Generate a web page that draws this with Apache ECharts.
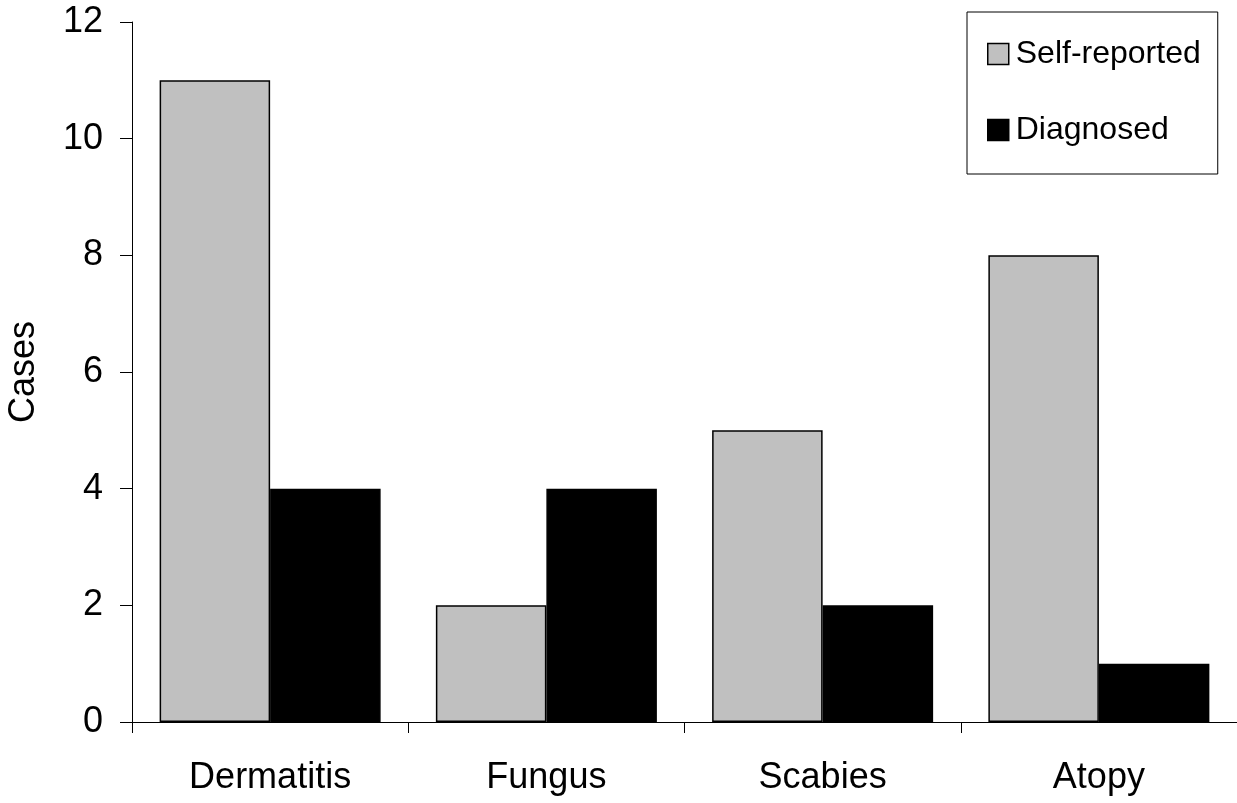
<!DOCTYPE html>
<html><head><meta charset="utf-8">
<script src="https://cdn.jsdelivr.net/npm/echarts@6/dist/echarts.min.js"></script>
<style>html,body{margin:0;padding:0;background:#fff}#c{width:1237px;height:803px}</style>
</head><body><div id="c"></div>
<script>
const categories = ['Dermatitis', 'Fungus', 'Scabies', 'Atopy'];
const selfReported = [11, 2, 5, 8];
const diagnosed = [4, 4, 2, 1];
const yTicks = [0, 2, 4, 6, 8, 10, 12];

const font = 'Liberation Sans, Arial, sans-serif';
const chart = echarts.init(document.getElementById('c'), null, {renderer: 'canvas'});
chart.setOption({
  animation: false,
  backgroundColor: '#fff',
  grid: {left: 132, right: 0, top: 22, bottom: 81, containLabel: false, outerBoundsMode: 'none'},
  legend: {
    orient: 'vertical', left: 967, top: 12,
    padding: [26, 17, 28, 20], itemGap: 44,
    itemWidth: 21, itemHeight: 21, icon: 'rect',
    borderColor: '#000', borderWidth: 1, backgroundColor: '#fff',
    textStyle: {fontFamily: font, fontSize: 32, color: '#000', padding: [0, 0, 0, 2]},
    itemStyle: {borderColor: '#000', borderWidth: 1.5},
    data: ['Self-reported', 'Diagnosed']
  },
  xAxis: {
    type: 'category', data: categories,
    axisLine: {lineStyle: {color: '#000', width: 1}},
    axisTick: {show: true, length: 11, lineStyle: {color: '#000'}},
    axisLabel: {fontFamily: font, fontSize: 36, color: '#000', margin: 38}
  },
  yAxis: {
    type: 'value', min: yTicks[0], max: yTicks[yTicks.length - 1], interval: 2,
    name: 'Cases', nameLocation: 'middle', nameGap: 90,
    nameTextStyle: {fontFamily: font, fontSize: 36, color: '#000'},
    axisLine: {show: true, lineStyle: {color: '#000', width: 1}},
    axisTick: {show: true, length: 12, lineStyle: {color: '#000'}},
    splitLine: {show: false},
    axisLabel: {fontFamily: font, fontSize: 36, color: '#000', margin: 29}
  },
  series: [
    {name: 'Self-reported', type: 'bar', data: selfReported, barGap: '0%', barCategoryGap: '20%',
     itemStyle: {color: '#c0c0c0', borderColor: '#000', borderWidth: 1.5}},
    {name: 'Diagnosed', type: 'bar', data: diagnosed,
     itemStyle: {color: '#000', borderColor: '#000', borderWidth: 1.5}}
  ]
});
</script></body></html>
